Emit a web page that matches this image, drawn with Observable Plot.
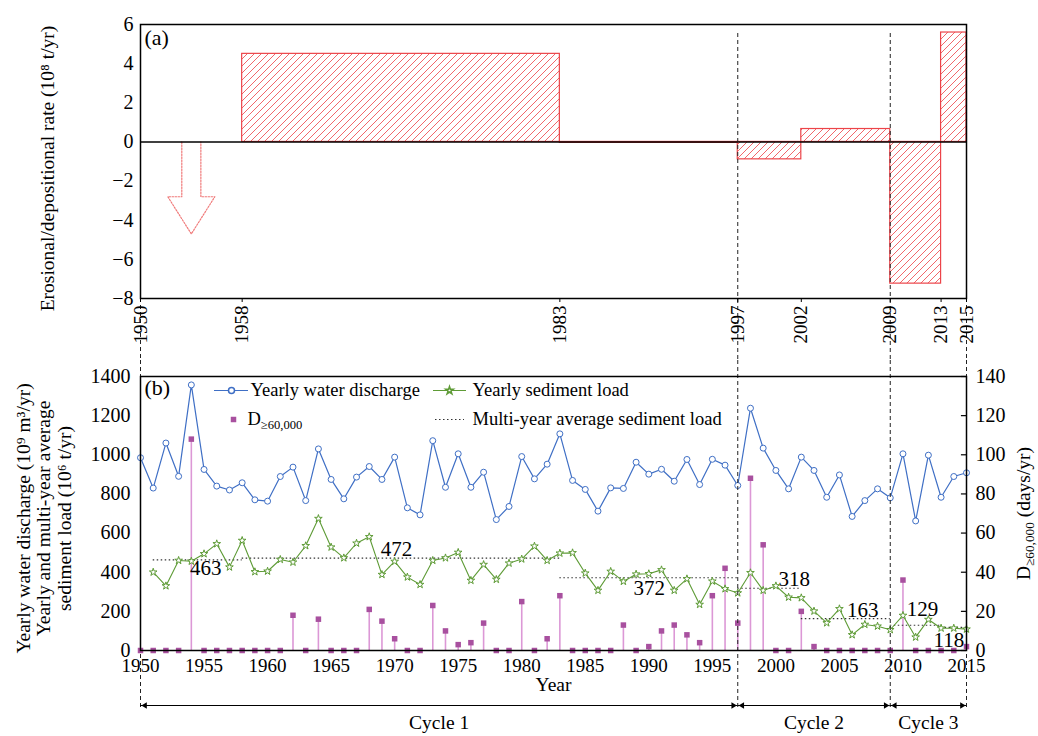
<!DOCTYPE html>
<html><head><meta charset="utf-8">
<script src="https://cdn.jsdelivr.net/npm/d3@7"></script>
<script src="https://cdn.jsdelivr.net/npm/@observablehq/plot@0.6"></script>
<style>
html,body{margin:0;padding:0;background:#fff;}
#wrap{position:relative;width:1038px;height:736px;background:#fff;}
#wrap svg{position:absolute;left:0;}
#wrap svg, #wrap svg text, #wrap svg tspan{font-family:"Liberation Serif","Times New Roman",serif !important;}
</style></head><body><div id="wrap"></div>
<script>
// ---------------- DATA ----------------
const years = d3.range(1950, 2016);
const waterDischarge = [985,830,1060,890,1357,925,840,820,857,770,763,889,937,766,1030,874,775,886,940,874,
  988,729,693,1072,834,1005,834,911,669,736,991,877,952,1107,869,823,712,831,828,962,
  901,926,865,976,848,977,947,843,1238,1034,920,826,988,920,783,897,685,766,826,780,
  1005,662,998,783,889,908];
const sedimentYears = d3.range(1951, 2016);
const sedimentLoad = [400,330,460,456,494,545,426,562,402,405,465,451,535,674,528,473,548,581,388,
  455,375,337,460,473,501,358,439,363,446,467,533,460,497,499,395,307,404,353,390,
  392,412,307,366,235,354,315,294,397,307,330,272,269,201,141,213,80,133,124,106,
  179,68,158,114,114,109];
const daysAbove60000 = [0,0,0,0,108,0,0,0,0,0,0,0,18,0,16,0,0,0,21,15,
  6,0,0,23,10,3,4,14,0,0,25,0,6,28,0,0,0,0,13,0,
  2,10,13,8,4,28,42,14,88,54,0,0,20,2,0,0,0,0,0,0,
  36,0,0,0,0,2];
const periodStarts = [1958,1983,1997,2002,2009,2013];
const periodEnds   = [1983,1997,2002,2009,2013,2015];
const erosionRates = [4.5,-0.05,-0.89,0.66,-7.24,5.59];
const arrowData = [{year:1954, from:0, to:-4.7}];
const periodTicks = [1950,1958,1983,1997,2002,2009,2013,2015];
const avgStarts = [1951,1958,1983,1997,2002,2009,2013];
const avgEnds   = [1958,1983,1997,2002,2009,2013,2015];
const avgValues = [463,472,372,318,163,129,118];
const cycleNames = ["Cycle 1","Cycle 2","Cycle 3"];
const cycleStarts = [1950,1997,2009];
const cycleEnds = [1997,2009,2015];

// ---------------- HELPERS ----------------
const serif = "'Liberation Serif', 'Times New Roman', serif";
const W = 1038;
const red = "#ec4449";
const blue = "#3f6fc5";
const green = "#5e9b36";
const purple = "#a8509f";
const pink = "#dc98d6";

const periods = periodStarts.map((s,i)=>({start:s,end:periodEnds[i],rate:erosionRates[i]}));
const water = years.map((year,i)=>({year,value:waterDischarge[i]}));
const sediment = sedimentYears.map((year,i)=>({year,value:sedimentLoad[i]}));
const days = years.map((year,i)=>({year,days:daysAbove60000[i]}));
const averages = avgStarts.map((s,i)=>({start:s,end:avgEnds[i],value:avgValues[i]}));
const cycles = cycleNames.map((name,i)=>({name,start:cycleStarts[i],end:cycleEnds[i]}));

// arrow outline (shape built from arrowData)
const arrowPolygon = arrowData.flatMap(({year,from,to})=>{
  const shaft=0.75, head=1.85, neck=to+1.9;
  return [[year-shaft,from],[year-shaft,neck],[year-head,neck],[year,to],[year+head,neck],[year+shaft,neck],[year+shaft,from]]
    .map(([x,y])=>({x,y}));
});

// label placement (layout, not data): [x start year, vertical pixel offset]
const avgLabelPlace = {463:[1953.9,8],472:[1968.9,-9],372:[1988.8,11],318:[2000.2,-9],163:[2005.6,-8],129:[2010.3,-16],118:[2012.4,13]};
const pxToValB = 1400 / 274;

// page-pixel -> panel b data (for legend layout)
const toYear = px => 1950 + (px - 140) * 65 / 826;
const toValB = py => (650 - py) * pxToValB;

// ---------------- PANEL A ----------------
const panelA = Plot.plot({
  width: W, height: 360, marginLeft: 140, marginRight: 72, marginTop: 24, marginBottom: 62,
  style: {fontFamily: serif, fontSize: "19px", color: "black", background: "white"},
  x: {domain: [1950, 2015]},
  y: {domain: [-8, 6]},
  marks: [
    Plot.rect(periods, {x1:"start", x2:"end", y1:0, y2:"rate", fill:"url(#hatchA)", stroke:red, strokeWidth:1.2}),
    Plot.line(arrowPolygon, {x:"x", y:"y", stroke:"#f07a7a", strokeWidth:1.2, strokeDasharray:"1.5,1.5"}),
    Plot.ruleY([0], {stroke:"black", strokeWidth:1.5}),
    Plot.ruleX([1997,2009], {stroke:"#222", strokeDasharray:"4,3", strokeWidth:1, insetTop:9, insetBottom:-62}),
    Plot.ruleX([1950,2015], {stroke:"#222", strokeDasharray:"4,3", strokeWidth:1, insetTop:274, insetBottom:-62}),
    Plot.frame({stroke:"black", strokeWidth:1.5}),
    Plot.axisY(d3.range(-8,7,2), {anchor:"left", tickSize:0, tickPadding:7, label:null, fontSize:20}),
    Plot.axisX(periodTicks, {anchor:"bottom", tickRotate:-90, tickSize:4, tickPadding:3, tickFormat:d3.format("d"), label:null, fontSize:19}),
    Plot.text(["(a)"], {text:d=>d, frameAnchor:"top-left", dx:4, dy:5, lineAnchor:"top", textAnchor:"start", fontSize:22}),
    Plot.text(["Erosional/depositional rate (10⁸ t/yr)"], {text:d=>d, frameAnchor:"left", dx:-93, dy:7, rotate:-90, textAnchor:"middle", fontSize:19.5})
  ]
});
panelA.style.top = "0px";
{
  const defs = d3.select(panelA).insert("defs", ":first-child");
  const pat = defs.append("pattern").attr("id","hatchA").attr("patternUnits","userSpaceOnUse").attr("width",7).attr("height",7);
  pat.append("rect").attr("width",7).attr("height",7).attr("fill","white");
  pat.append("path").attr("d","M-1,1L1,-1M0,7L7,0M6,8L8,6").attr("stroke","#ee4045").attr("stroke-width",0.8);
}

// ---------------- PANEL B ----------------
const legendY1 = toValB(390), legendY2 = toValB(419);
const panelB = Plot.plot({
  width: W, height: 376, marginLeft: 140, marginRight: 72, marginTop: 16, marginBottom: 86,
  style: {fontFamily: serif, fontSize: "19px", color: "black", background: "white"},
  x: {domain: [1950, 2015]},
  y: {domain: [0, 1400]},
  marks: [
    Plot.ruleX(days, {x:"year", y1:0, y2:d=>d.days*10, stroke:pink, strokeWidth:1.6}),
    Plot.dot(days, {x:"year", y:d=>d.days*10, symbol:"square", fill:purple, r:3.1}),
    Plot.ruleY(averages, {y:"value", x1:"start", x2:"end", stroke:"#333", strokeWidth:1.1, strokeDasharray:"1.5,2.5"}),
    Plot.text(averages, {x:d=>avgLabelPlace[d.value][0], y:d=>d.value - avgLabelPlace[d.value][1]*pxToValB,
      text:d=>String(d.value), textAnchor:"start", fontSize:21}),
    Plot.line(sediment, {x:"year", y:"value", stroke:green, strokeWidth:1.1}),
    Plot.dot(sediment, {x:"year", y:"value", symbol:"star", stroke:green, fill:"white", strokeWidth:1, r:2.4}),
    Plot.line(water, {x:"year", y:"value", stroke:blue, strokeWidth:1.2}),
    Plot.dot(water, {x:"year", y:"value", symbol:"circle", stroke:blue, fill:"white", strokeWidth:1, r:3}),
    Plot.ruleX([1950,1997,2009,2015], {stroke:"#222", strokeDasharray:"4,3", strokeWidth:1, insetTop:-16, insetBottom:-60}),
    Plot.frame({stroke:"black", strokeWidth:1.5}),
    Plot.ruleY(d3.range(0,1401,200), {x1:2015-0.4, x2:2015, stroke:"black", strokeWidth:1.2}),
    Plot.axisY(d3.range(0,1401,200), {anchor:"left", tickSize:0, tickPadding:10, label:null, tickFormat:d3.format("d"), fontSize:20}),
    Plot.axisY(d3.range(0,1401,200), {anchor:"right", tickSize:0, tickPadding:9, label:null, tickFormat:d=>d3.format("d")(d/10), fontSize:20}),
    Plot.axisX(d3.range(1950,2016,5), {anchor:"bottom", tickSize:0, tickPadding:8, label:null, tickFormat:d3.format("d"), fontSize:19}),
    // legend
    Plot.ruleY([legendY1], {x1:toYear(214), x2:toYear(248), stroke:blue, strokeWidth:1.2}),
    Plot.dot([legendY1], {x:toYear(231), y:d=>d, symbol:"circle", stroke:blue, fill:"white", r:3}),
    Plot.text(["Yearly water discharge"], {text:d=>d, x:toYear(250), y:legendY1, textAnchor:"start", fontSize:18.5}),
    Plot.ruleY([legendY1], {x1:toYear(433), x2:toYear(466), stroke:green, strokeWidth:1.1}),
    Plot.dot([legendY1], {x:toYear(449), y:d=>d, symbol:"star", stroke:green, fill:"white", r:2.4}),
    Plot.text(["Yearly sediment load"], {text:d=>d, x:toYear(472), y:legendY1, textAnchor:"start", fontSize:18.5}),
    Plot.dot([legendY2], {x:toYear(233), y:d=>d, symbol:"square", fill:purple, r:3.1}),
    Plot.text(["D≥60,000"], {text:d=>d, x:toYear(247), y:legendY2, textAnchor:"start", fontSize:18.5}),
    Plot.ruleY([legendY2], {x1:toYear(435), x2:toYear(464), stroke:"#333", strokeWidth:1.1, strokeDasharray:"1.5,2.5"}),
    Plot.text(["Multi-year average sediment load"], {text:d=>d, x:toYear(472), y:legendY2, textAnchor:"start", fontSize:18.5}),
    // labels
    Plot.text(["(b)"], {text:d=>d, frameAnchor:"top-left", dx:4, dy:3, lineAnchor:"top", textAnchor:"start", fontSize:22}),
    Plot.text(["Yearly water discharge (10⁹ m³/yr)\nYearly and multi-year average\nsediment load (10⁶ t/yr)"],
      {text:d=>d, frameAnchor:"left", dx:-97, dy:5, rotate:-90, textAnchor:"middle", lineAnchor:"middle", lineHeight:1.05, fontSize:19.5}),
    Plot.text(["D≥60,000 (days/yr)"], {text:d=>d, frameAnchor:"right", dx:57, dy:0, rotate:-90, textAnchor:"middle", fontSize:19.5}),
    Plot.text(["Year"], {text:d=>d, frameAnchor:"bottom", dy:40, fontSize:19.5}),
    // cycles
    Plot.ruleY(cycles, {x1:"start", x2:"end", y:0, dy:55, stroke:"black", strokeWidth:1}),
    Plot.dot(cycles, {x:"start", y:0, dy:55, dx:4.5, symbol:"triangle2", rotate:-90, fill:"black", r:3}),
    Plot.dot(cycles, {x:"end", y:0, dy:55, dx:-4.5, symbol:"triangle2", rotate:90, fill:"black", r:3}),
    Plot.text(cycles, {x:d=>(d.start+d.end)/2, y:0, dy:72, text:"name", fontSize:19.5})
  ]
});
panelB.style.top = "360px";

// subscripts
function subscriptify(svg){
  d3.select(svg).selectAll("text").each(function(){
    if (this.querySelector("tspan")) return;
    const t = this.textContent;
    const i = t.indexOf("≥60,000");
    if (i < 0) return;
    const sel = d3.select(this);
    sel.text(null);
    sel.append("tspan").text(t.slice(0,i));
    sel.append("tspan").attr("font-size","0.68em").attr("dy","4").text("≥60,000");
    const rest = t.slice(i+7);
    if (rest) sel.append("tspan").attr("dy","-4").text(rest);
  });
}
subscriptify(panelB);

document.getElementById("wrap").append(panelA, panelB);
</script>
</body></html>
